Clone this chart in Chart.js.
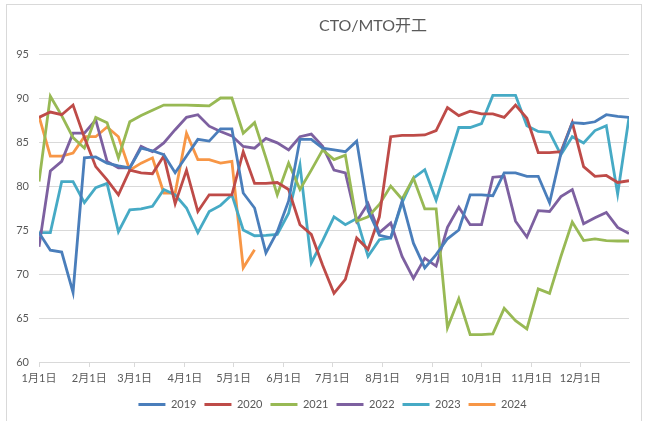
<!DOCTYPE html>
<html>
<head>
<meta charset="utf-8">
<script src="https://cdn.jsdelivr.net/npm/chart.js@4.4.1/dist/chart.umd.min.js"></script>
<style>
  html, body { margin: 0; padding: 0; background: #fff; }
  #wrap { position: relative; width: 645px; height: 421px; }
  #frame { position: absolute; left: 6px; top: 4px; width: 636px; height: 430px; border: 1px solid #d9d9d9; box-sizing: border-box; }
  canvas { position: absolute; left: 0; top: 0; }
</style>
</head>
<body>
<div id="wrap">
  <div id="frame"></div>
  <canvas id="chart" width="645" height="421"></canvas>
</div>
<script>
// day of year for each weekly reading
const weekDays = [0, 7, 14, 21, 28, 35, 42, 49, 56, 63, 70, 77, 84, 91, 98, 105, 112, 119, 126, 133,
    140, 147, 154, 161, 168, 175, 182, 189, 196, 203, 210, 217, 224, 231, 238, 245, 252, 259, 266, 273,
    280, 287, 294, 301, 308, 315, 322, 329, 336, 343, 350, 357, 364];

const monthDays = [0, 31, 59, 90, 120, 151, 181, 212, 243, 273, 304, 334];
const monthLabels = ['1月1日', '2月1日', '3月1日', '4月1日', '5月1日', '6月1日',
    '7月1日', '8月1日', '9月1日', '10月1日', '11月1日', '12月1日'];

const years = ['2019', '2020', '2021', '2022', '2023', '2024'];
const colors = ['#4a7ebb', '#be4b48', '#98b954', '#7d60a0', '#46aac5', '#f79646'];

const v2019 = [74.7, 72.7, 72.5, 67.9, 83.2, 83.3, 82.6, 82.3, 82.05, 84.3, 84.0, 83.55, 81.5, 83.4,
    85.3, 85.1, 86.5, 86.5, 79.2, 77.5, 72.4, 74.8, 78.3, 85.3, 85.3, 84.3, 84.1, 83.9, 85.1, 77.2,
    74.4, 74.1, 78.3, 73.5, 70.7, 72.2, 74.0, 75.0, 79.0, 79.0, 78.9, 81.5, 81.5, 81.1, 81.1, 78.1,
    83.7, 87.2, 87.1, 87.3, 88.1, 87.9, 87.8];

const v2020 = [87.8, 88.4, 88.1, 89.2, 85.5, 82.2, 80.7, 79.0, 81.8, 81.5, 81.4, 83.4, 78.0, 81.8,
    77.1, 79.0, 79.0, 79.0, 83.9, 80.3, 80.3, 80.4, 79.6, 75.6, 74.5, 71.0, 67.8, 69.4, 74.1, 72.8,
    76.5, 85.6, 85.75, 85.75, 85.8, 86.3, 88.9, 88.0, 88.5, 88.2, 88.2, 87.8, 89.2, 87.7, 83.8, 83.8,
    83.9, 87.2, 82.2, 81.1, 81.2, 80.4, 80.6];

const v2021 = [80.5, 90.2, 88.0, 85.5, 84.3, 87.8, 87.2, 83.2, 87.3, 88.0, 88.6, 89.2, 89.2, 89.2,
    89.15, 89.1, 90.0, 90.0, 86.0, 87.2, 83.2, 79.0, 82.6, 79.6, 81.8, 84.1, 83.0, 83.5, 76.0, 76.5,
    77.9, 80.0, 78.5, 80.9, 77.4, 77.4, 63.9, 67.2, 63.1, 63.1, 63.2, 66.1, 64.7, 63.75, 68.3, 67.8,
    72.0, 75.9, 73.8, 74.0, 73.8, 73.75, 73.75];

const v2022 = [73.1, 81.7, 82.8, 86.0, 86.0, 87.5, 82.8, 82.05, 82.05, 84.5, 83.9, 84.9, 86.4, 87.8,
    88.1, 86.8, 86.2, 85.7, 84.5, 84.3, 85.4, 84.9, 84.1, 85.6, 85.9, 84.5, 81.8, 81.5, 76.0, 78.0,
    74.7, 75.8, 72.0, 69.5, 71.8, 70.9, 75.3, 77.6, 75.6, 75.6, 81.0, 81.1, 76.0, 74.2, 77.2, 77.1,
    78.8, 79.6, 75.7, 76.4, 77.0, 75.3, 74.6];

const v2023 = [74.7, 74.7, 80.5, 80.5, 78.1, 79.8, 80.3, 74.8, 77.3, 77.4, 77.7, 79.6, 79.0, 77.5,
    74.7, 77.1, 77.8, 79.0, 75.0, 74.35, 74.4, 74.5, 76.9, 82.4, 71.25, 73.8, 76.5, 75.6, 76.3, 72.0,
    73.9, 74.1, 78.1, 80.9, 81.85, 78.4, 82.5, 86.65, 86.65, 87.1, 90.3, 90.3, 90.3, 86.85, 86.2, 86.1,
    83.55, 85.6, 84.9, 86.3, 86.85, 79.1, 87.8];

const v2024 = [87.9, 83.4, 83.4, 83.75, 85.6, 85.6, 86.7, 85.6, 81.8, 82.6, 83.2, 79.2, 79.2, 86.0,
    83.0, 83.0, 82.6, 82.8, 70.7, 72.75];

const yearValues = [v2019, v2020, v2021, v2022, v2023, v2024];

const fontFamily = "Lato, 'Noto Sans CJK SC', sans-serif";
const textColor = '#595959';
const gridColor = '#d9d9d9';

const titlePlugin = {
    id: 'sideTitle',
    afterLayout(chart) {
        // the original legend sits a bit right of the canvas centre
        chart.legend.left += 36;
    },
    afterDraw(chart) {
        const ctx = chart.ctx;
        ctx.save();
        ctx.font = "16px " + fontFamily;
        ctx.fillStyle = textColor;
        ctx.textAlign = 'center';
        ctx.textBaseline = 'middle';
        ctx.fillText('CTO/MTO开工', 373, 26);
        ctx.restore();
    }
};

const datasets = years.map((year, k) => ({
    label: year,
    data: yearValues[k].map((v, i) => ({ x: weekDays[i], y: v })),
    borderColor: colors[k],
    backgroundColor: colors[k],
    borderWidth: 2.8,
    pointRadius: 0,
    tension: 0,
    fill: false
}));

new Chart(document.getElementById('chart'), {
    type: 'line',
    data: { datasets },
    plugins: [titlePlugin],
    options: {
        responsive: false,
        animation: false,
        layout: { padding: { top: 54, right: 16, left: 0, bottom: 1 } },
        plugins: {
            title: { display: false },
            tooltip: { enabled: false },
            legend: {
                position: 'bottom',
                labels: {
                    boxWidth: 27,
                    boxHeight: 3,
                    padding: 8,
                    color: textColor,
                    font: { family: fontFamily, size: 11 },
                    generateLabels(chart) {
                        return Chart.defaults.plugins.legend.labels.generateLabels(chart).map(item => {
                            item.lineWidth = 0;
                            item.fillStyle = item.strokeStyle;
                            return item;
                        });
                    }
                }
            }
        },
        scales: {
            x: {
                type: 'linear',
                min: 0,
                max: 364,
                afterBuildTicks(scale) {
                    scale.ticks = monthDays.map(d => ({ value: d }));
                },
                afterFit(scale) { scale.height = 29; },
                ticks: {
                    autoSkip: false,
                    maxRotation: 0,
                    padding: 5,
                    color: textColor,
                    font: { family: fontFamily, size: 11 },
                    callback: (value, index) => monthLabels[index]
                },
                grid: {
                    drawOnChartArea: false,
                    drawTicks: true,
                    tickLength: 5,
                    color: gridColor
                },
                border: { display: true, color: gridColor }
            },
            y: {
                min: 60,
                max: 95,
                afterFit(scale) { scale.width = 39; },
                ticks: {
                    stepSize: 5,
                    padding: 10,
                    color: textColor,
                    font: { family: fontFamily, size: 11 }
                },
                grid: { color: gridColor, drawTicks: false },
                border: { display: false }
            }
        }
    }
});
</script>
</body>
</html>
